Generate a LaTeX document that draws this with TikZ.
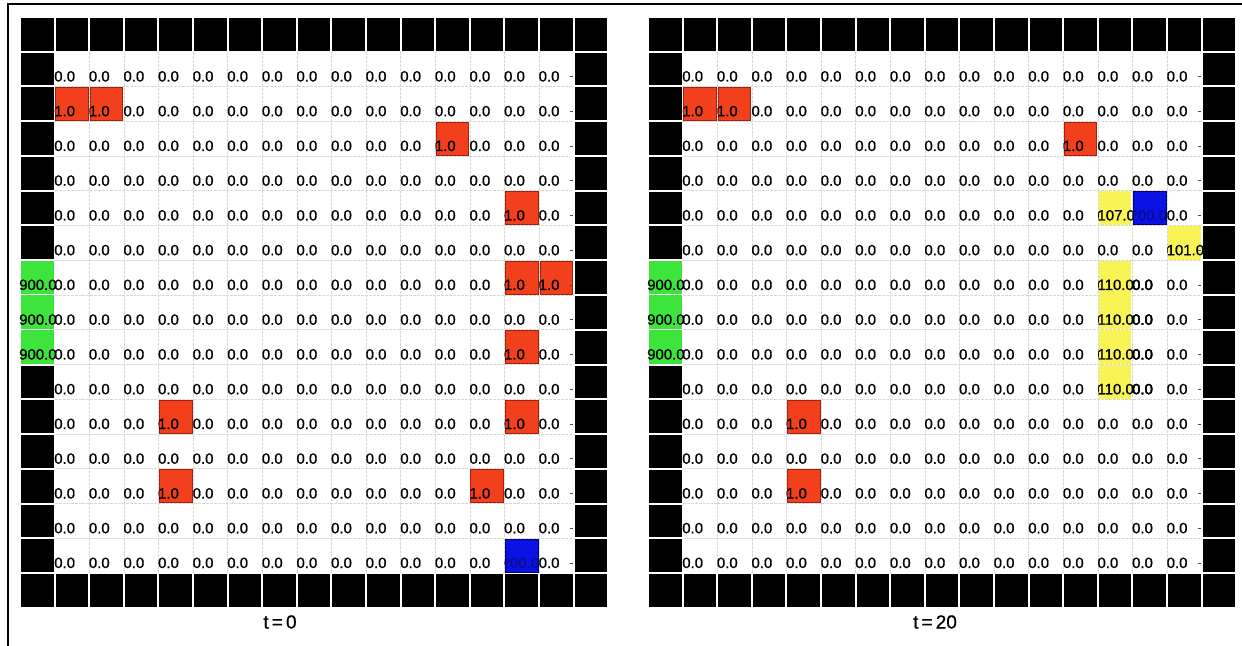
\documentclass[tikz,border=0pt]{standalone}
\usepackage{fontspec}
\setmainfont{Liberation Sans}
\newfontfamily\cellfont{Liberation Sans}[FakeBold=0.8]
\definecolor{redc}{HTML}{F2401C}
\definecolor{redb}{HTML}{A3200C}
\definecolor{greenc}{HTML}{3CE43C}
\definecolor{yellowc}{HTML}{F8F456}
\definecolor{bluec}{HTML}{0A12E4}
\definecolor{blueb}{HTML}{00007A}
\definecolor{bluet}{HTML}{0A0C90}
\definecolor{gridc}{HTML}{D8D8D8}
\begin{document}
\begin{tikzpicture}[x=1bp,y=-1bp,
  lab/.style={anchor=base west,inner sep=0pt,font=\cellfont\fontsize{15}{17}\selectfont},
  ttl/.style={inner sep=0pt,font=\cellfont\fontsize{19}{22}\selectfont},
  redcell/.style={fill=redc,draw=redb,line width=1},
  greencell/.style={fill=greenc},
  yellowcell/.style={fill=yellowc},
  bluecell/.style={fill=bluec,draw=blueb,line width=1},
  wallcell/.style={fill=black},
  gridline/.style={draw=gridc,line width=0.6,dash pattern=on 3pt off 1pt},
  tick/.style={draw=black!70,line width=1},
  frame/.style={draw=black,line width=2}]
\useasboundingbox (0,0) rectangle (1242,646);
\def\sx{34.6}
\def\sy{34.75}
\newcommand\mycell[4]{%
  \path[#3] (#1*\sx+1,#2*\sy+1) rectangle (#1*\sx+\sx-1,#2*\sy+\sy-1);
  \node[lab] at (#1*\sx-0.5,#2*\sy+\sy-5) {#4};}
\newcommand\mywall[2]{%
  \path[wallcell] (#1*\sx+1,#2*\sy+1) rectangle (#1*\sx+\sx-1,#2*\sy+\sy-1);}
\newcommand\mygreen[1]{%
  \path[greencell] (0.5,#1*\sy+0.5) rectangle (\sx-0.5,#1*\sy+\sy-0.5);
  \node[lab] at (-1,#1*\sy+\sy-5) {900.0};}
\newcommand\myyellow[3]{%
  \path[yellowcell] (#1*\sx+1,#2*\sy+0.3) rectangle (#1*\sx+\sx-1,#2*\sy+\sy-0.3);
  \node[lab] at (#1*\sx-0.5,#2*\sy+\sy-5) {#3};}
\newcommand\myblue[2]{%
  \path[bluecell] (#1*\sx+1,#2*\sy+1) rectangle (#1*\sx+\sx-1,#2*\sy+\sy-1);
  \begin{scope}
    \clip (#1*\sx+1,#2*\sy+1) rectangle (#1*\sx+\sx-1,#2*\sy+\sy-1);
    \node[lab,text=bluet] at (#1*\sx-3,#2*\sy+\sy-5) {200.0};
  \end{scope}}
\newcommand\mybase{%
  \foreach \i in {2,...,15} {
    \path[gridline] (\i*\sx,\sy) -- (\i*\sx,16*\sy);
    \path[gridline] (\sx,\i*\sy) -- (16*\sx,\i*\sy);
  }
  \foreach \r in {1,...,15} {
    \foreach \c in {1,...,15} {
      \node[lab] at (\c*\sx-0.5,\r*\sy+\sy-5) {0.0};
    }
  }}
\newcommand\mywalls{%
  \foreach \c in {0,...,16} { \mywall{\c}{0} \mywall{\c}{16} }
  \foreach \r in {1,...,15} { \mywall{16}{\r} }
  \foreach \r in {1,...,6,10,11,12,13,14,15} { \mywall{0}{\r} }
  \foreach \r in {1,...,15} {
    \path[tick] (16*\sx-3.5,\r*\sy+\sy-10) -- (16*\sx-0.5,\r*\sy+\sy-10);
  }}

% outer frame
\path[frame] (1242,4) -- (8,4) -- (8,646);

% left panel, t = 0
\begin{scope}[shift={(20,17)}]
  \mybase
  \mycell{1}{2}{redcell}{1.0}
  \mycell{2}{2}{redcell}{1.0}
  \mycell{12}{3}{redcell}{1.0}
  \mycell{14}{5}{redcell}{1.0}
  \mycell{14}{7}{redcell}{1.0}
  \mycell{15}{7}{redcell}{1.0}
  \mycell{14}{9}{redcell}{1.0}
  \mycell{4}{11}{redcell}{1.0}
  \mycell{14}{11}{redcell}{1.0}
  \mycell{4}{13}{redcell}{1.0}
  \mycell{13}{13}{redcell}{1.0}
  \mygreen{7}
  \mygreen{8}
  \mygreen{9}
  \myblue{14}{15}
  \mywalls
\end{scope}
\node[ttl] (t0) at (280,622) {t\,=\,0};

% right panel, t = 20
\begin{scope}[shift={(648,17)}]
  \mybase
  \mycell{1}{2}{redcell}{1.0}
  \mycell{2}{2}{redcell}{1.0}
  \mycell{12}{3}{redcell}{1.0}
  \mycell{4}{11}{redcell}{1.0}
  \mycell{4}{13}{redcell}{1.0}
  \myyellow{13}{7}{110.0}
  \myyellow{13}{8}{110.0}
  \myyellow{13}{9}{110.0}
  \myyellow{13}{10}{110.0}
  \foreach \r in {7,8,9,10} { \node[lab] at (14*\sx-0.5,\r*\sy+\sy-5) {0.0}; }
  \myyellow{15}{6}{101.0}
  \myyellow{13}{5}{107.0}
  \mygreen{7}
  \mygreen{8}
  \mygreen{9}
  \myblue{14}{5}
  \mywalls
\end{scope}
\node[ttl] (t20) at (935,622) {t\,=\,20};
\end{tikzpicture}
\end{document}
